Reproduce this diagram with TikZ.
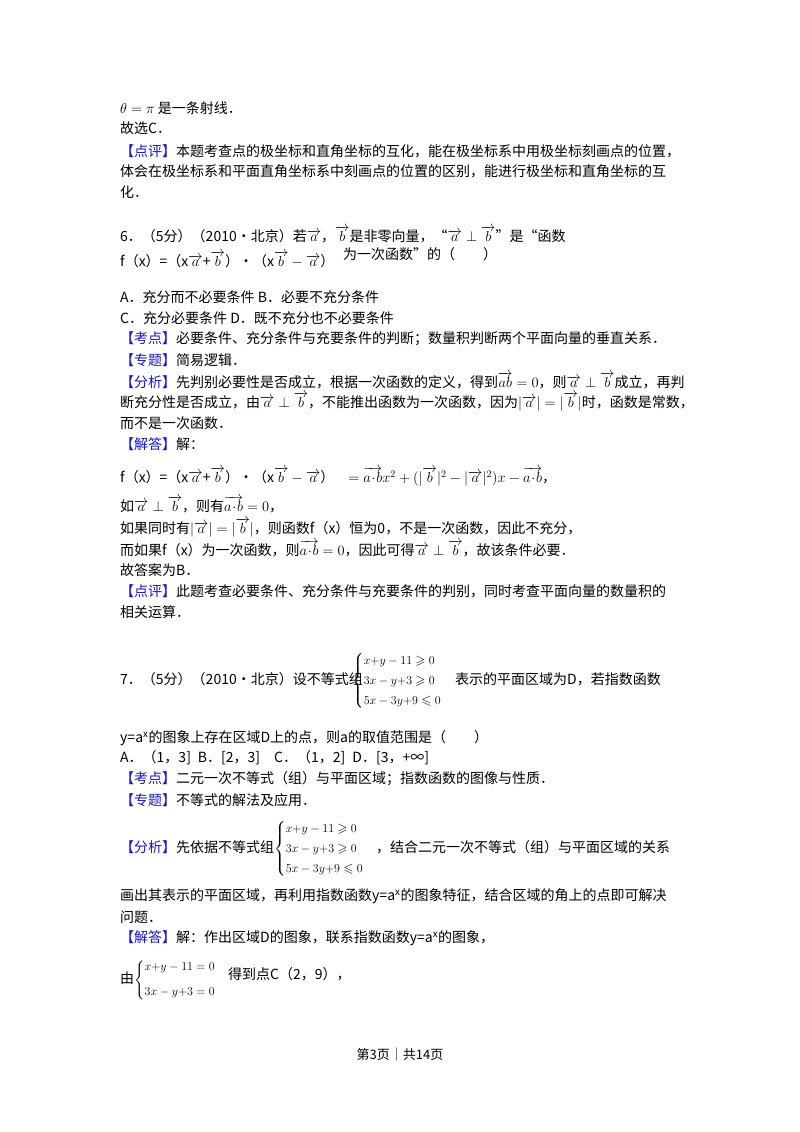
\documentclass[tikz,border=0pt]{standalone}
\usepackage{fontspec}
\setmainfont{Noto Sans CJK SC}
\usepackage{amsmath,amssymb}
\definecolor{kb}{RGB}{20,20,220}
\newcommand{\lb}[1]{\textcolor{kb}{【#1】}}
\newcommand{\va}{\overrightarrow{a}}
\newcommand{\vb}{\overrightarrow{b}}
\begin{document}
\begin{tikzpicture}[x=1pt,y=-1pt,
 t/.style={anchor=west,inner sep=0pt,font=\fontsize{14}{16}\selectfont},
 sy/.style={anchor=west,inner sep=0pt,font=\fontsize{13}{15}\selectfont}]
\useasboundingbox (0,0) rectangle (800,1132);
\node[t] (l1) at (120,108) {$\theta=\pi$ 是一条射线．};
\node[t] (l2) at (120,128) {故选C．};
\node[t] (l3) at (120,151) {\lb{点评}本题考查点的极坐标和直角坐标的互化，能在极坐标系中用极坐标刻画点的位置，};
\node[t] (l4) at (120,171) {体会在极坐标系和平面直角坐标系中刻画点的位置的区别，能进行极坐标和直角坐标的互};
\node[t] (l5) at (120,192) {化．};
\node[t] (q6a) at (120,235) {6．（5分）（2010•北京）若$\va$，$\vb$是非零向量，“$\va\perp\vb$”是“函数};
\node[t] (q6b) at (120,260) {f（x）=（x$\va$+$\vb$）•（x$\vb-\va$）};
\node[t] (q6c) at (343,254) {为一次函数”的（　　）};
\node[t] (oA) at (120,297) {A．充分而不必要条件 B．必要不充分条件};
\node[t] (oC) at (120,318) {C．充分必要条件 D．既不充分也不必要条件};
\node[t] (k6) at (120,339) {\lb{考点}必要条件、充分条件与充要条件的判断；数量积判断两个平面向量的垂直关系．};
\node[t] (z6) at (120,360) {\lb{专题}简易逻辑．};
\node[t] (f6a) at (120,381) {\lb{分析}先判别必要性是否成立，根据一次函数的定义，得到$\overrightarrow{ab}=0$，则$\va\perp\vb$成立，再判};
\node[t] (f6b) at (120,402) {断充分性是否成立，由$\va\perp\vb$，不能推出函数为一次函数，因为$|\va|=|\vb|$时，函数是常数，};
\node[t] (f6c) at (120,423) {而不是一次函数．};
\node[t] (j6) at (120,444) {\lb{解答}解：};
\node[t] (s1) at (120,477) {f（x）=（x$\va$+$\vb$）•（x$\vb-\va$）\quad $=\overrightarrow{a\!\cdot\! b}x^2+(|\vb|^2-|\va|^2)x-\overrightarrow{a\!\cdot\! b}$，};
\node[t] (s2) at (120,505) {如$\va\perp\vb$，则有$\overrightarrow{a\!\cdot\! b}=0$，};
\node[t] (s3) at (120,528) {如果同时有$|\va|=|\vb|$，则函数f（x）恒为0，不是一次函数，因此不充分，};
\node[t] (s4) at (120,549) {而如果f（x）为一次函数，则$\overrightarrow{a\!\cdot\! b}=0$，因此可得$\va\perp\vb$，故该条件必要．};
\node[t] (s5) at (120,570) {故答案为B．};
\node[t] (d6a) at (120,591) {\lb{点评}此题考查必要条件、充分条件与充要条件的判别，同时考查平面向量的数量积的};
\node[t] (d6b) at (120,612) {相关运算．};
\node[t] (q7a) at (120,679) {7．（5分）（2010•北京）设不等式组};
\node[sy] (sys1) at (352,681) {$\left\{\begin{array}{@{}l@{}}x{+}y-11\geqslant0\\[5pt]3x-y{+}3\geqslant0\\[5pt]5x-3y{+}9\leqslant0\end{array}\right.$};
\node[t] (q7b) at (455,679) {表示的平面区域为D，若指数函数};
\node[t] (q7c) at (120,738) {y=a$^{\mathrm{x}}$的图象上存在区域D上的点，则a的取值范围是（　　）};
\node[t] (o7) at (120,758) {A．（1，3]\enspace B．[2，3]\quad C．（1，2]\enspace D．[3，+∞]};
\node[t] (k7) at (120,779) {\lb{考点}二元一次不等式（组）与平面区域；指数函数的图像与性质．};
\node[t] (z7) at (120,800) {\lb{专题}不等式的解法及应用．};
\node[t] (f7a) at (120,847) {\lb{分析}先依据不等式组};
\node[sy] (sys2) at (274,849) {$\left\{\begin{array}{@{}l@{}}x{+}y-11\geqslant0\\[5pt]3x-y{+}3\geqslant0\\[5pt]5x-3y{+}9\leqslant0\end{array}\right.$};
\node[t] (f7b) at (376,847) {，结合二元一次不等式（组）与平面区域的关系};
\node[t] (f7c) at (120,896) {画出其表示的平面区域，再利用指数函数y=a$^{\mathrm{x}}$的图象特征，结合区域的角上的点即可解决};
\node[t] (f7d) at (120,917) {问题．};
\node[t] (j7) at (120,938) {\lb{解答}解：作出区域D的图象，联系指数函数y=a$^{\mathrm{x}}$的图象，};
\node[t] (y1) at (120,978) {由};
\node[sy] (sys3) at (134,980) {$\left\{\begin{array}{@{}l@{}}x{+}y-11=0\\[10pt]3x-y{+}3=0\end{array}\right.$};
\node[t] (y2) at (228,974) {得到点C（2，9），};
\node[font=\fontsize{13}{15}\selectfont,inner sep=0pt] (pg) at (400,1055) {第3页｜共14页};
\end{tikzpicture}
\end{document}
